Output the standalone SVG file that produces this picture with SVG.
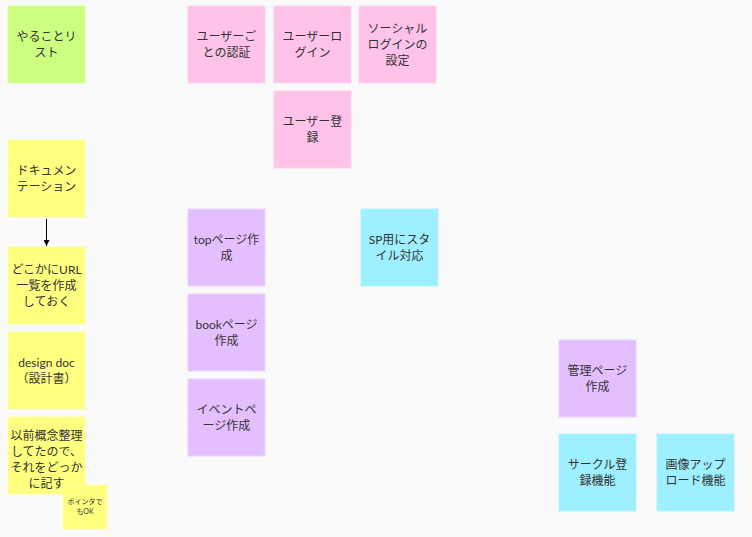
<svg xmlns="http://www.w3.org/2000/svg" width="752" height="537" viewBox="0 0 752 537">
<style>
.n{stroke-width:1}
.g{fill:#ccff80;stroke:#d9ffa0}
.p{fill:#ffc2e8;stroke:#ffd3ee}
.y{fill:#ffff80;stroke:#ffffa0}
.v{fill:#e4bfff;stroke:#ecd1ff}
.c{fill:#9eefff;stroke:#b5f3ff}
text{font-family:"Lato","Noto Sans CJK JP",sans-serif;font-size:12px;fill:#333;text-anchor:middle}
.s{font-size:7px}
</style>
<defs>
<marker id="ah" viewBox="0 0 10 10" refX="10" refY="5" markerWidth="6" markerHeight="6" orient="auto"><path d="M0,0L10,5L0,10z" fill="#000"/></marker>
</defs>
<rect width="752" height="537" fill="#fafafa"/>
<g id="connectors">
<line x1="46.5" y1="219" x2="46.5" y2="246" stroke="#000" stroke-width="1" marker-end="url(#ah)"/>
</g>
<g id="todo"><rect class="n g" x="8" y="6" width="77" height="77"/><text x="46.5" y="41">やることリ<tspan x="46.5" dy="16">スト</tspan></text></g>
<g id="auth"><rect class="n p" x="188" y="6" width="77" height="77"/><text x="226.5" y="41">ユーザーご<tspan x="226.5" dy="16">との認証</tspan></text></g>
<g id="login"><rect class="n p" x="274" y="6" width="77" height="77"/><text x="312.5" y="41">ユーザーロ<tspan x="312.5" dy="16">グイン</tspan></text></g>
<g id="social"><rect class="n p" x="359" y="6" width="77" height="77"/><text x="397.5" y="33">ソーシャル<tspan x="397.5" dy="16">ログインの</tspan><tspan x="397.5" dy="16">設定</tspan></text></g>
<g id="register"><rect class="n p" x="274" y="91" width="77" height="77"/><text x="312.5" y="126">ユーザー登<tspan x="312.5" dy="16">録</tspan></text></g>
<g id="doc"><rect class="n y" x="8" y="140" width="77" height="77"/><text x="46.5" y="175">ドキュメン<tspan x="46.5" dy="16">テーション</tspan></text></g>
<g id="url"><rect class="n y" x="8" y="247" width="77" height="77"/><text x="46.5" y="274">どこかにURL<tspan x="46.5" dy="16">一覧を作成</tspan><tspan x="46.5" dy="16">しておく</tspan></text></g>
<g id="design"><rect class="n y" x="8" y="332" width="77" height="77"/><text x="46.5" y="367">design doc<tspan x="46.5" dy="16">（設計書）</tspan></text></g>
<g id="concept"><rect class="n y" x="8" y="417" width="77" height="77"/><text x="46.5" y="440">以前概念整理<tspan x="46.5" dy="16">してたので、</tspan><tspan x="46.5" dy="16">それをどっか</tspan><tspan x="46.5" dy="16">に記す</tspan></text></g>
<g id="pointer"><rect class="n y" x="63" y="485" width="44" height="44"/><text class="s" x="85" y="504">ポインタで<tspan x="85" dy="10">もOK</tspan></text></g>
<g id="top"><rect class="n v" x="188" y="209" width="77" height="77"/><text x="226.5" y="244">topページ作<tspan x="226.5" dy="16">成</tspan></text></g>
<g id="book"><rect class="n v" x="188" y="294" width="77" height="77"/><text x="226.5" y="329">bookページ<tspan x="226.5" dy="16">作成</tspan></text></g>
<g id="event"><rect class="n v" x="188" y="379" width="77" height="77"/><text x="226.5" y="414">イベントペ<tspan x="226.5" dy="16">ージ作成</tspan></text></g>
<g id="sp"><rect class="n c" x="361" y="209" width="77" height="77"/><text x="399.5" y="244">SP用にスタ<tspan x="399.5" dy="16">イル対応</tspan></text></g>
<g id="admin"><rect class="n v" x="559" y="340" width="77" height="77"/><text x="597.5" y="375">管理ページ<tspan x="597.5" dy="16">作成</tspan></text></g>
<g id="circle"><rect class="n c" x="559" y="434" width="77" height="77"/><text x="597.5" y="469">サークル登<tspan x="597.5" dy="16">録機能</tspan></text></g>
<g id="image"><rect class="n c" x="657" y="434" width="77" height="77"/><text x="695.5" y="469">画像アップ<tspan x="695.5" dy="16">ロード機能</tspan></text></g>
</svg>
